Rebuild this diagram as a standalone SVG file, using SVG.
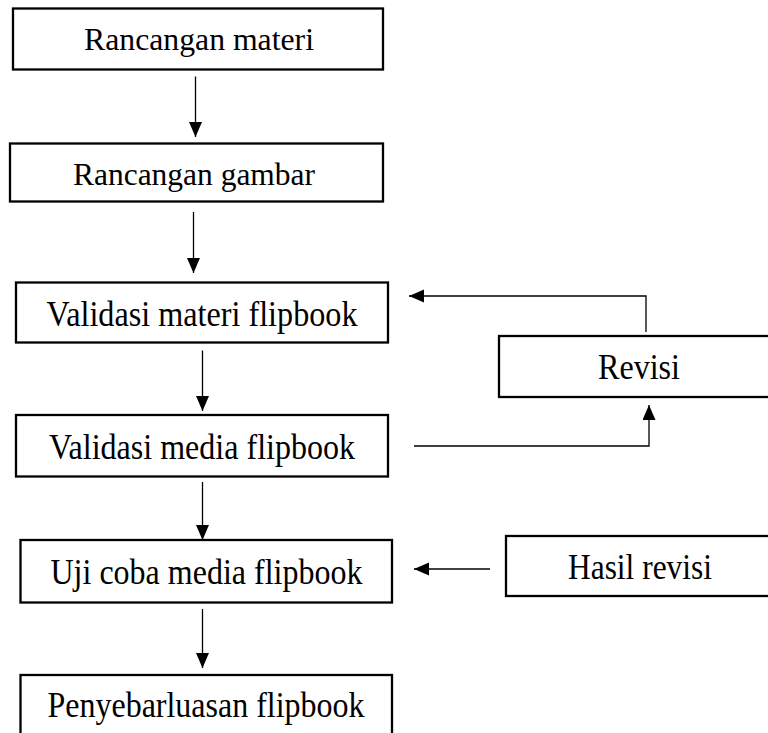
<svg xmlns="http://www.w3.org/2000/svg" width="768" height="733" viewBox="0 0 768 733">
<defs>
<marker id="ah" markerUnits="userSpaceOnUse" markerWidth="16" markerHeight="14" refX="15" refY="6.5" orient="auto">
<path d="M0,0 L15,6.5 L0,13 z" fill="#000"/>
</marker>
<style>
.box{fill:#fff;stroke:#000;stroke-width:2.3}
.lbl{font-family:"Liberation Serif","Times New Roman",serif;font-size:32px;fill:#000;text-anchor:middle}
.big{font-size:36px}
.con{fill:none;stroke:#000;stroke-width:1.3}
</style>
</defs>
<rect width="768" height="733" fill="#fff"/>
<g id="n1"><rect class="box" x="13" y="8.5" width="370" height="61"/><text class="lbl" x="199" y="50" textLength="230" lengthAdjust="spacingAndGlyphs">Rancangan materi</text></g>
<g id="n2"><rect class="box" x="10" y="143.5" width="373" height="58"/><text class="lbl" x="194" y="185" textLength="242" lengthAdjust="spacingAndGlyphs">Rancangan gambar</text></g>
<g id="n3"><rect class="box" x="16" y="282.5" width="372" height="60"/><text class="lbl big" x="202" y="326" textLength="311" lengthAdjust="spacingAndGlyphs">Validasi materi flipbook</text></g>
<g id="n4"><rect class="box" x="16" y="415" width="372" height="61.5"/><text class="lbl big" x="202" y="459" textLength="306" lengthAdjust="spacingAndGlyphs">Validasi media flipbook</text></g>
<g id="n5"><rect class="box" x="20.5" y="540" width="371.5" height="62.5"/><text class="lbl big" x="206.5" y="584" textLength="312" lengthAdjust="spacingAndGlyphs">Uji coba media flipbook</text></g>
<g id="n6"><rect class="box" x="20.5" y="675" width="371.5" height="70"/><text class="lbl big" x="206" y="717" textLength="317" lengthAdjust="spacingAndGlyphs">Penyebarluasan flipbook</text></g>
<g id="n7"><rect class="box" x="499" y="336" width="280" height="61"/><text class="lbl big" x="639" y="379" textLength="82" lengthAdjust="spacingAndGlyphs">Revisi</text></g>
<g id="n8"><rect class="box" x="506" y="536" width="280" height="60"/><text class="lbl big" x="640" y="579" textLength="144" lengthAdjust="spacingAndGlyphs">Hasil revisi</text></g>
<g id="connectors">
<line class="con" x1="195.5" y1="76.5" x2="195.5" y2="137" marker-end="url(#ah)"/>
<line class="con" x1="193.5" y1="212" x2="193.5" y2="273" marker-end="url(#ah)"/>
<line class="con" x1="202.5" y1="350.5" x2="202.5" y2="411" marker-end="url(#ah)"/>
<line class="con" x1="202.5" y1="482" x2="202.5" y2="540" marker-end="url(#ah)"/>
<line class="con" x1="202.5" y1="609" x2="202.5" y2="668" marker-end="url(#ah)"/>
<polyline class="con" points="646,332 646,296 409,296" marker-end="url(#ah)"/>
<polyline class="con" points="414,446 649,446 649,405" marker-end="url(#ah)"/>
<line class="con" x1="490" y1="569" x2="414" y2="569" marker-end="url(#ah)"/>
</g>
</svg>
